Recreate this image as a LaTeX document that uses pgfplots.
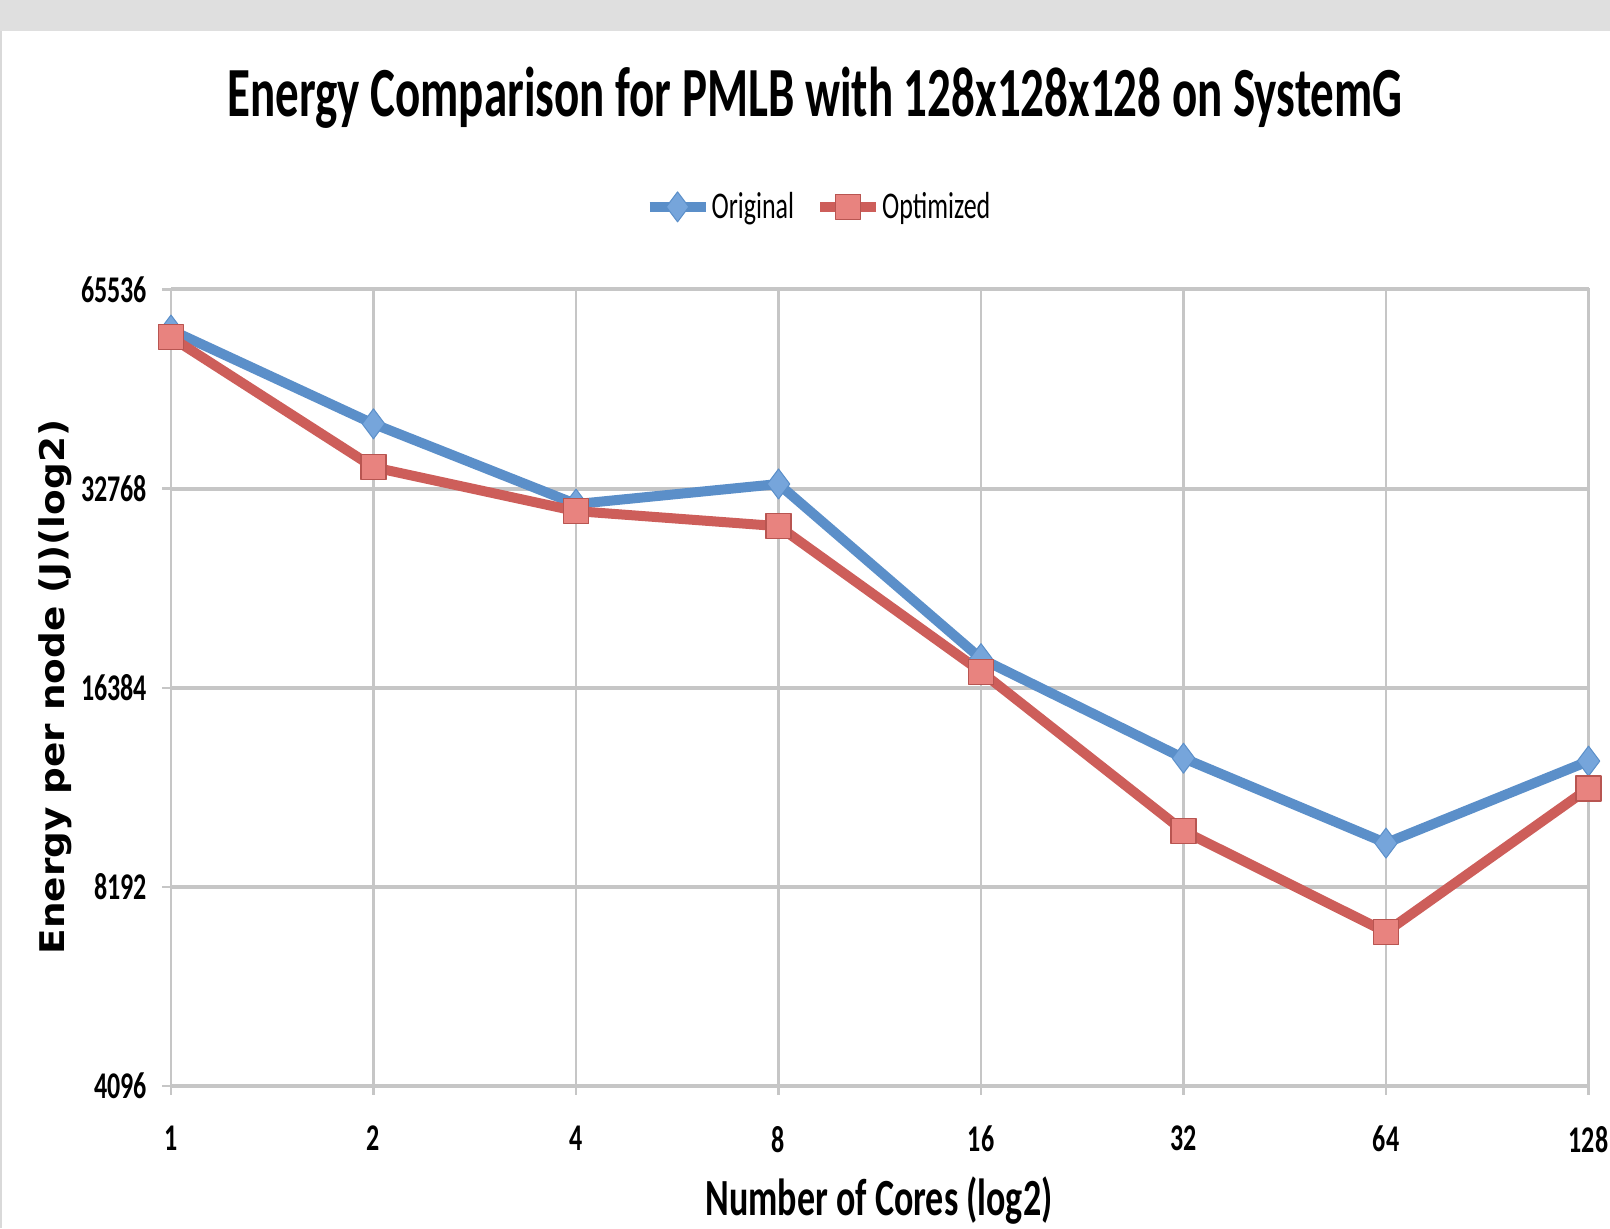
\documentclass[border=0pt]{standalone}
\usepackage{pgfplots}
\pgfplotsset{compat=1.18}
\usepackage{graphicx}
\usepackage{fontspec}
\setmainfont{Carlito}
\newfontfamily\djv{DejaVu Sans}
\definecolor{obl}{HTML}{5B8FC9}
\definecolor{oblf}{HTML}{76A5DB}
\definecolor{ored}{HTML}{CD5E5A}
\definecolor{oredf}{HTML}{E8837F}
\definecolor{gridc}{HTML}{C6C6C6}
\definecolor{band}{HTML}{DFDFDF}
\newcommand\sy[1]{\scalebox{1}[1.45]{#1}}
\begin{document}
\begin{tikzpicture}[x=1pt,y=1pt]
\useasboundingbox (0,0) rectangle (805,614);
\fill[band] (0,598.5) rectangle (805,614);
\draw[gray!30, line width=1pt] (0.5,0) -- (0.5,598.5);
\begin{axis}[
  at={(85.5pt,71pt)}, anchor=south west,
  scale only axis, width=708.75pt, height=398.25pt,
  xmode=log, ymode=log, log basis x=2, log basis y=2,
  xmin=1, xmax=128, ymin=4096, ymax=65536,
  clip=false,
  xtick={1,2,4,8,16,32,64,128},
  xticklabels={\sy{1},\sy{2},\sy{4},\sy{8},\sy{16},\sy{32},\sy{64},\sy{128}},
  ytick={4096,8192,16384,32768,65536},
  yticklabels={\sy{4096},\sy{8192},\sy{16384},\sy{32768},\sy{65536}},
  xtick pos=bottom, ytick pos=left,
  tick align=outside, major tick length=4.5pt,
  tick style={gridc, line width=1.2pt},
  axis line style={gridc, line width=1.2pt},
  grid=major,
  x grid style={gridc, line width=1.2pt},
  y grid style={gridc, line width=2pt},
  ticklabel style={font=\bfseries\fontsize{13}{15}\selectfont},
  xticklabel style={yshift=-12pt},
  yticklabel style={xshift=-4pt},
  title={\scalebox{1}[1.5]{Energy Comparison for PMLB with 128x128x128 on SystemG}},
  title style={at={(axis description cs:0.4543,1.2022)}, anchor=base, font=\bfseries\fontsize{23.5}{28}\selectfont},
  xlabel={\scalebox{1}[1.45]{Number of Cores (log2)}},
  xlabel style={at={(axis description cs:0.4995,-0.1632)}, anchor=base, font=\bfseries\fontsize{18}{21}\selectfont},
  ylabel={\scalebox{1.1}[1]{Energy per node (J)(log2)}},
  ylabel style={at={(axis description cs:-0.0748,0.5009)}, anchor=base, font=\djv\bfseries\fontsize{17}{20}\selectfont},
  legend style={at={(axis description cs:0.4564,1.1037)}, anchor=center, draw=none, fill=none,
    legend columns=2, font=\fontsize{13}{15}\selectfont,
    nodes={inner xsep=0.5pt},
    /tikz/every even column/.append style={column sep=10pt}},
  legend cell align=left,
  legend image code/.code={\draw[#1, mark repeat=2, mark phase=2] plot coordinates {(0pt,0pt)(14pt,0pt)(28pt,0pt)};},
]
\addplot[obl, line width=5pt, line join=round, mark=diamond*, mark size=7.5pt,
  mark options={solid, fill=oblf, draw=obl, line width=0.5pt}]
  coordinates {(1,56900) (2,41050) (4,31050) (8,33300) (16,18130) (32,12820) (64,9540) (128,12690)};
\addlegendentry{\sy{Original}}
\addplot[ored, line width=5pt, line join=round, mark=square*, mark size=6.25pt,
  mark options={solid, fill=oredf, draw=ored!90!black, line width=0.6pt}]
  coordinates {(1,55500) (2,35300) (4,30300) (8,28750) (16,17330) (32,9950) (64,7000) (128,11540)};
\addlegendentry{\sy{Optimized}}
\end{axis}
\end{tikzpicture}
\end{document}
